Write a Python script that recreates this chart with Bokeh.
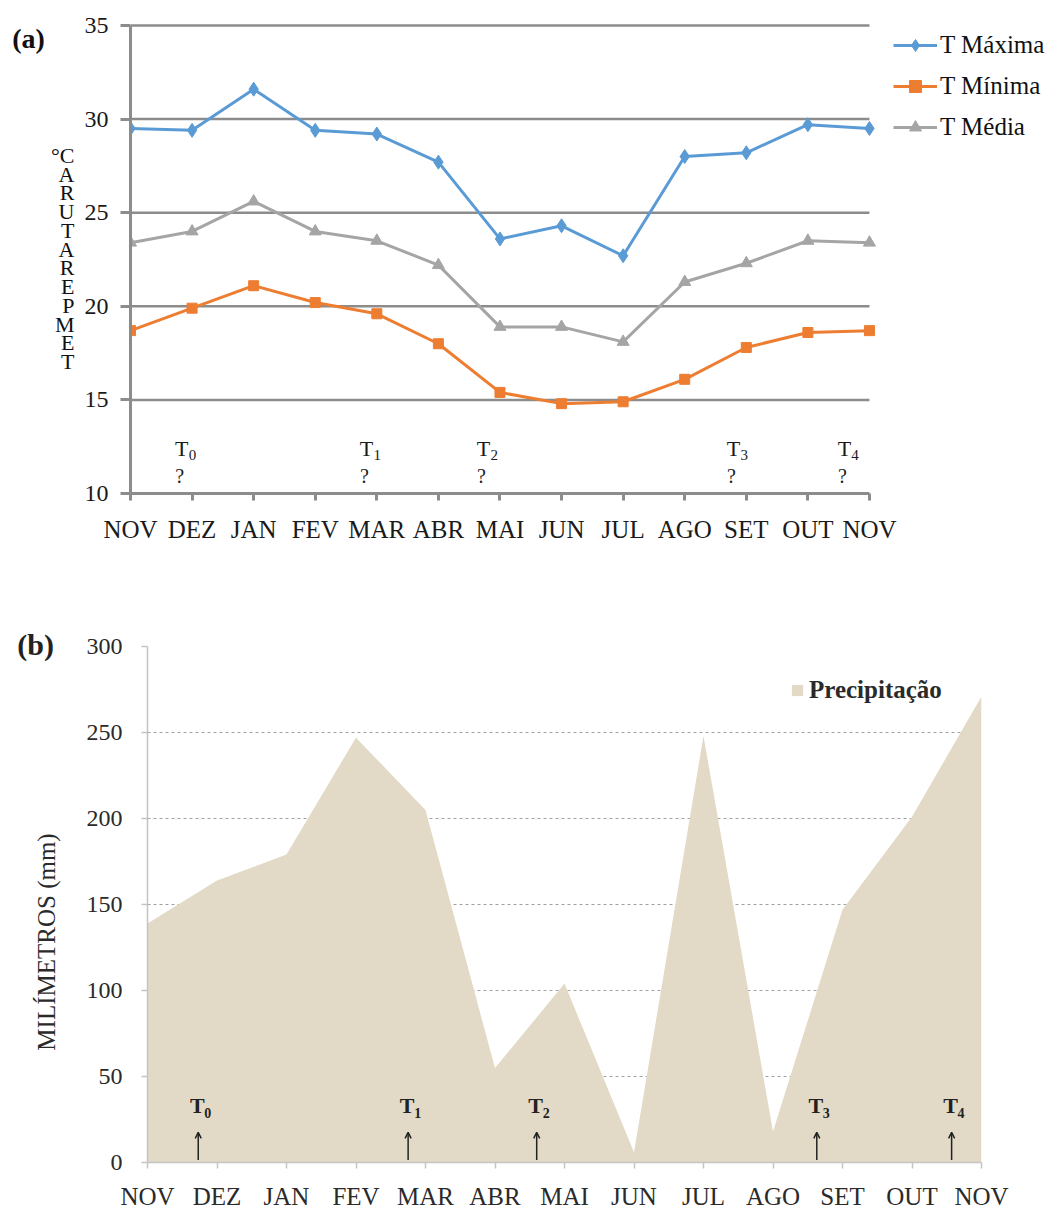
import math
from bokeh.plotting import figure
from bokeh.models import (Range1d, FixedTicker, Legend, LegendItem, Label,
                          ColumnDataSource, Arrow, OpenHead)
from bokeh.embed import file_html
from bokeh.resources import INLINE
from bokeh.core.properties import value

# ---------------- data ----------------
months = ["NOV", "DEZ", "JAN", "FEV", "MAR", "ABR", "MAI", "JUN", "JUL", "AGO", "SET", "OUT", "NOV"]
t_max = [29.5, 29.4, 31.6, 29.4, 29.2, 27.7, 23.6, 24.3, 22.7, 28.0, 28.2, 29.7, 29.5]
t_min = [18.7, 19.9, 21.1, 20.2, 19.6, 18.0, 15.4, 14.8, 14.9, 16.1, 17.8, 18.6, 18.7]
t_med = [23.4, 24.0, 25.6, 24.0, 23.5, 22.2, 18.9, 18.9, 18.1, 21.3, 22.3, 23.5, 23.4]
precip = [139, 164, 179, 247, 205, 55, 104, 6, 248, 18, 147, 201, 271]
temp_ticks = [10, 15, 20, 25, 30, 35]
precip_ticks = [0, 50, 100, 150, 200, 250, 300]
sample_subs = ["0", "1", "2", "3", "4"]
sample_pos_a = [0.80, 3.80, 5.70, 9.76, 11.56]
sample_pos_b = [0.73, 3.75, 5.60, 9.63, 11.57]
series_names = ["T Máxima", "T Mínima", "T Média"]
y_label_a = "TEMPERATURA"
y_label_b = "MILÍMETROS (mm)"

SERIF = "Liberation Serif"
xs = list(range(len(months)))

# ---------------- (a) temperature ----------------
# frame runs to the right edge so the legend (drawn in the frame) is not clipped;
# the axis is bounded to the 12 months
pa = figure(width=1048, height=560, x_range=Range1d(0, 918 / 61.58), y_range=Range1d(10, 10 + 470 / 18.72),
            output_backend="svg", toolbar_location=None,
            min_border_left=130, min_border_right=0, min_border_top=23, min_border_bottom=67)
pa.outline_line_color = None
pa.xgrid.visible = False
pa.ygrid.visible = False
pa.xaxis.ticker = FixedTicker(ticks=xs)
pa.xaxis.bounds = (0, 12)
pa.xaxis.major_label_overrides = {i: m for i, m in enumerate(months)}
pa.yaxis.ticker = FixedTicker(ticks=temp_ticks)
pa.yaxis.bounds = (10, 35)
for ax in (pa.xaxis[0], pa.yaxis[0]):
    ax.axis_line_color = "#8c8c8c"
    ax.axis_line_width = 3
    ax.major_tick_line_color = "#8c8c8c"
    ax.major_tick_line_width = 3
    ax.minor_tick_line_color = None
    ax.major_tick_in = 0
    ax.major_label_text_font = SERIF
    ax.major_label_text_color = "#1a1a1a"
pa.xaxis.major_tick_out = 7
pa.xaxis.major_label_standoff = 15
pa.xaxis.major_label_text_font_size = "25px"
pa.yaxis.major_tick_out = 10
pa.yaxis.major_label_standoff = 12
pa.yaxis.major_label_text_font_size = "24px"

# horizontal grid lines, limited to the month span
gl = [t for t in temp_ticks if t > temp_ticks[0]]
pa.segment(x0=[xs[0]] * len(gl), y0=gl, x1=[xs[-1]] * len(gl), y1=gl,
           line_color="#8c8c8c", line_width=2.5)

# stacked letters (read bottom-up), degree sign on top
pa.yaxis.axis_label = "\n".join(["°C"] + list(y_label_a[::-1]))
pa.yaxis.axis_label_orientation = "horizontal"
pa.yaxis.axis_label_text_font = SERIF
pa.yaxis.axis_label_text_font_style = "normal"
pa.yaxis.axis_label_text_font_size = "22px"
pa.yaxis.axis_label_text_line_height = 0.75
pa.yaxis.axis_label_text_color = "#111111"
pa.yaxis.axis_label_standoff = 7

styles = [("#5b9bd5", "diamond", 14), ("#ed7d31", "square", 10), ("#a5a5a5", "triangle", 12)]
items = []
for name, vals, (col, mk, sz) in zip(series_names, [t_max, t_min, t_med], styles):
    src = ColumnDataSource(dict(x=xs, y=vals))
    ln = pa.line("x", "y", source=src, line_color=col, line_width=3)
    sc = pa.scatter("x", "y", source=src, marker=mk, size=sz, fill_color=col, line_color=col)
    items.append(LegendItem(label=name, renderers=[ln, sc]))
leg_a = Legend(items=items, location=(763, 351), padding=0, margin=0, spacing=11,
               glyph_width=44, glyph_height=30, label_standoff=3,
               label_text_font=SERIF, label_text_font_size="25px", label_text_color="#111111",
               border_line_color=None, background_fill_alpha=0)
pa.add_layout(leg_a)

sa = ColumnDataSource(dict(x=sample_pos_a, t=["T"] * 5, sub=sample_subs, q=["?"] * 5))
pa.text(x="x", y=12.4, text="t", source=sa, text_font=value(SERIF), text_font_size="22px",
        text_align="center", text_baseline="middle", x_offset=2, text_color="#1a1a1a")
pa.text(x="x", y=12.05, text="sub", source=sa, text_font=value(SERIF), text_font_size="15px",
        text_align="left", text_baseline="middle", x_offset=9, text_color="#1a1a1a")
pa.text(x="x", y=10.96, text="q", source=sa, text_font=value(SERIF), text_font_size="20px",
        text_align="center", text_baseline="middle", text_color="#1a1a1a")

xa_px = lambda px: (px - 130) / 61.58
ya_px = lambda py: 35 - (py - 25) / 18.72
pa.add_layout(Label(x=xa_px(28), y=ya_px(38), text="(a)", text_font=SERIF, text_font_size="28px",
                    text_font_style="bold", text_align="center", text_baseline="middle",
                    text_color="#111111"), "left")

# ---------------- (b) precipitation ----------------
pb = figure(width=1048, height=652, x_range=Range1d(0, 12), y_range=Range1d(0, 300),
            output_backend="svg", toolbar_location=None,
            min_border_left=147, min_border_right=67, min_border_top=86, min_border_bottom=49)
pb.outline_line_color = None
pb.xgrid.visible = False
pb.ygrid.ticker = FixedTicker(ticks=precip_ticks[1:])
pb.ygrid.grid_line_color = "#a0a0a0"
pb.ygrid.grid_line_width = 1
pb.ygrid.grid_line_dash = "3 3"
pb.xaxis.ticker = FixedTicker(ticks=xs)
pb.xaxis.major_label_overrides = {i: m for i, m in enumerate(months)}
pb.yaxis.ticker = FixedTicker(ticks=precip_ticks)
for ax in (pb.xaxis[0], pb.yaxis[0]):
    ax.axis_line_color = "#c4c4c4"
    ax.axis_line_width = 1.5
    ax.major_tick_line_color = "#c4c4c4"
    ax.major_tick_line_width = 1.5
    ax.minor_tick_line_color = None
    ax.major_tick_in = 0
    ax.major_tick_out = 6
    ax.major_label_text_font = SERIF
    ax.major_label_text_color = "#2a2a2a"
pb.xaxis.major_label_standoff = 14
pb.xaxis.major_label_text_font_size = "25px"
pb.yaxis.major_label_standoff = 19
pb.yaxis.major_label_text_font_size = "24px"
# rotated axis label, nudged downward with trailing no-break spaces
pb.yaxis.axis_label = y_label_b + "\u00a0" * 12
pb.yaxis.axis_label_text_font = SERIF
pb.yaxis.axis_label_text_font_style = "normal"
pb.yaxis.axis_label_text_font_size = "25px"
pb.yaxis.axis_label_text_color = "#2a2a2a"
pb.yaxis.axis_label_standoff = 24

area = pb.varea(x=xs, y1=[0] * len(xs), y2=precip, fill_color="#e2dac6")
leg_b = Legend(items=[LegendItem(label="Precipitação", renderers=[area])], location=(643, 458),
               padding=0, margin=0, glyph_width=14, glyph_height=14, label_height=26,
               label_standoff=5, label_text_font=SERIF, label_text_font_size="25px",
               label_text_font_style="bold", label_text_color="#2a2a2a",
               border_line_color=None, background_fill_alpha=0)
pb.add_layout(leg_b)

sb = ColumnDataSource(dict(x=sample_pos_b, t=["T"] * 5, sub=sample_subs))
pb.add_layout(Arrow(x_start="x", y_start=1.5, x_end="x", y_end=17.5, source=sb,
                    line_color="#222222", line_width=1.5,
                    end=OpenHead(size=6, line_color="#222222", line_width=1.5)))
pb.text(x="x", y=33.0, text="t", source=sb, text_font=value(SERIF), text_font_size="22px",
        text_font_style="bold", text_align="center", text_baseline="middle", x_offset=-1,
        text_color="#222222")
pb.text(x="x", y=29.0, text="sub", source=sb, text_font=value(SERIF), text_font_size="14px",
        text_font_style="bold", text_align="left", text_baseline="middle", x_offset=6,
        text_color="#222222")

xb_px = lambda px: (px - 147) / 69.58
yb_px = lambda py: (1163 - py) / 1.7233
pb.add_layout(Label(x=xb_px(35), y=yb_px(644), text="(b)", text_font=SERIF, text_font_size="30px",
                    text_font_style="bold", text_align="center", text_baseline="middle",
                    text_color="#222222"), "above")

open("out.html", "w").write(file_html([pa, pb], INLINE))
